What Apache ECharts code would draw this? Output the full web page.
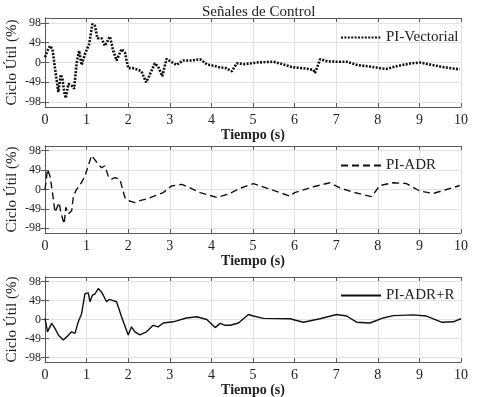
<!DOCTYPE html>
<html>
<head>
<meta charset="utf-8">
<script src="https://cdn.jsdelivr.net/npm/echarts@6/dist/echarts.min.js"></script>
<style>
  html, body { margin: 0; padding: 0; background: #fff; }
  #chart { width: 478px; height: 397px; }
</style>
</head>
<body>
<div id="chart"></div>
<script>
// PI-Vectorial (dotted)
const vecTime = [0, 0.06, 0.12, 0.18, 0.24, 0.32, 0.38, 0.42, 0.46, 0.5, 0.56, 0.64, 0.7, 0.76, 0.82, 0.88, 0.96, 1.06, 1.14, 1.2, 1.26, 1.36, 1.44, 1.56, 1.64, 1.72, 1.84, 1.92, 2.0, 2.12, 2.24, 2.32, 2.43, 2.52, 2.64, 2.72, 2.82, 2.92, 3.16, 3.32, 3.5, 3.73, 3.9, 4.05, 4.2, 4.35, 4.49, 4.61, 4.8, 5.1, 5.48, 5.7, 5.96, 6.2, 6.45, 6.49, 6.55, 6.61, 6.8, 7.0, 7.25, 7.5, 7.8, 8.05, 8.2, 8.5, 8.8, 9.01, 9.3, 9.6, 9.97];
const vecValue = [13, 29, 41, 33, -14, -73, -30, -41, -73, -88, -53, -57, -65, -2, 29, -6, 21, 45, 95, 91, 60, 60, 41, 64, 29, 5, 33, 25, -14, -14, -18, -22, -49, -30, -2, -10, -34, 9, -6, 5, 5, 8, -5, -8, -12, -14, -22, -2, -4, 0, 2, -4, -12, -14, -18, -26, -10, 8, 3, 2, 2, -6, -10, -14, -16, -8, -2, 0, -6, -12, -17];

// PI-ADR (dashed)
const adrTime = [0, 0.06, 0.12, 0.18, 0.2, 0.24, 0.28, 0.34, 0.38, 0.46, 0.5, 0.56, 0.64, 0.68, 0.74, 0.88, 0.96, 1.12, 1.28, 1.36, 1.44, 1.52, 1.6, 1.68, 1.8, 1.92, 2.0, 2.16, 2.28, 2.44, 2.64, 2.84, 3.04, 3.29, 3.45, 3.73, 4.13, 4.4, 4.69, 5.01, 5.49, 5.89, 6.0, 6.45, 6.85, 7.09, 7.41, 7.85, 8.05, 8.37, 8.69, 9.01, 9.33, 9.65, 9.97];
const adrValue = [0, 51, 34, -8, -24, -58, -62, -33, -58, -87, -45, -62, -54, -20, -3, 18, 34, 86, 64, 55, 60, 34, 26, 30, 26, -20, -28, -33, -28, -24, -16, -8, 9, 13, 6, -8, -20, -12, 3, 15, -2, -17, -8, 7, 17, 4, -7, -18, 10, 17, 15, -4, -10, 0, 10];

// PI-ADR+R (solid)
const adrrTime = [0, 0.06, 0.16, 0.24, 0.32, 0.44, 0.52, 0.64, 0.72, 0.8, 0.88, 0.96, 1.04, 1.08, 1.14, 1.2, 1.28, 1.34, 1.4, 1.48, 1.54, 1.6, 1.72, 1.84, 2.0, 2.08, 2.16, 2.28, 2.44, 2.6, 2.72, 2.84, 3.08, 3.4, 3.65, 3.89, 4.09, 4.21, 4.33, 4.45, 4.65, 4.89, 5.01, 5.25, 5.89, 6.21, 6.61, 7.01, 7.25, 7.49, 7.81, 8.13, 8.37, 8.85, 9.17, 9.53, 9.81, 10];
const adrrValue = [3, -32, -10, -23, -40, -53, -45, -32, -36, -6, 15, 67, 69, 46, 63, 66, 80, 74, 63, 46, 52, 50, 46, 7, -40, -19, -32, -40, -32, -15, -19, -9, -6, 4, 7, 0, -21, -10, -15, -15, -9, 13, 9, 3, 2, -7, 2, 13, 9, -7, -9, 4, 10, 12, 9, -7, -6, 2];

const xTicks = [0, 10];
const yTickLabels = [-98, -49, 0, 49, 98];
const seriesNames = ['PI-Vectorial', 'PI-ADR', 'PI-ADR+R'];

function zip(ts, vs) {
  return ts.map((t, i) => [t, vs[i]]);
}

const chart = echarts.init(document.getElementById('chart'));

const fontFamily = '"Liberation Serif", "DejaVu Serif", serif';
const frameColor = '#5a5a5a';
const gridTops = [18, 146, 277];
const gridHeights = [89, 87, 85];
const legendTops = [25, 153, 283];

const grids = gridTops.map((top, i) => ({
  left: 45,
  right: 17,
  top: top,
  height: gridHeights[i],
  containLabel: false,
  outerBoundsMode: 'none'
}));

const xAxes = [];
const yAxes = [];
gridTops.forEach((top, i) => {
  xAxes.push({
    type: 'value',
    gridIndex: i,
    min: xTicks[0],
    max: xTicks[1],
    interval: 1,
    name: 'Tiempo (s)',
    nameLocation: 'middle',
    nameGap: 20,
    nameTextStyle: { fontFamily: fontFamily, fontSize: 14, fontWeight: 'bold', color: '#222' },
    axisLine: { onZero: false, lineStyle: { color: frameColor } },
    axisTick: { inside: true, length: 4, lineStyle: { color: frameColor } },
    axisLabel: { fontFamily: fontFamily, fontSize: 14, color: '#222', margin: 6 },
    splitLine: { show: true, lineStyle: { color: '#e2e2e2' } }
  });
  xAxes.push({
    type: 'value',
    gridIndex: i,
    position: 'top',
    min: xTicks[0],
    max: xTicks[1],
    interval: 1,
    axisLine: { onZero: false, lineStyle: { color: frameColor } },
    axisTick: { inside: true, length: 4, lineStyle: { color: frameColor } },
    axisLabel: { show: false },
    splitLine: { show: false }
  });
  yAxes.push({
    type: 'value',
    gridIndex: i,
    min: -110,
    max: 110,
    name: 'Ciclo Útil (%)',
    nameLocation: 'middle',
    nameGap: 25,
    nameMoveOverlap: false,
    nameTextStyle: { fontFamily: fontFamily, fontSize: 15, color: '#222' },
    axisLine: { show: true, lineStyle: { color: frameColor } },
    axisTick: { show: true, inside: true, length: 4, customValues: yTickLabels, lineStyle: { color: frameColor } },
    axisLabel: { customValues: yTickLabels, fontFamily: fontFamily, fontSize: 12, color: '#222', margin: 4 },
    splitLine: { show: true, lineStyle: { color: '#e2e2e2' } }
  });
  yAxes.push({
    type: 'value',
    gridIndex: i,
    position: 'right',
    min: -110,
    max: 110,
    axisLine: { show: true, lineStyle: { color: frameColor } },
    axisTick: { show: true, inside: true, length: 4, customValues: yTickLabels, lineStyle: { color: frameColor } },
    axisLabel: { show: false },
    splitLine: { show: false }
  });
});

const lineStyles = [
  { color: '#111', width: 2.6, type: [2, 1.4] },
  { color: '#111', width: 1.4, type: [7, 4] },
  { color: '#111', width: 1.4, type: 'solid' }
];
const seriesData = [zip(vecTime, vecValue), zip(adrTime, adrValue), zip(adrrTime, adrrValue)];

chart.setOption({
  animation: false,
  title: {
    text: 'Señales de Control',
    left: 197,
    top: 0,
    textStyle: { fontFamily: fontFamily, fontSize: 15, fontWeight: 'normal', color: '#222' }
  },
  legend: seriesNames.map((name, i) => ({
    data: [name],
    left: 335,
    top: legendTops[i],
    itemWidth: 40,
    itemHeight: 14,
    itemStyle: { opacity: 0 },
    textStyle: { fontFamily: fontFamily, fontSize: 15, color: '#222' }
  })),
  grid: grids,
  xAxis: xAxes,
  yAxis: yAxes,
  series: seriesNames.map((name, i) => ({
    name: name,
    type: 'line',
    xAxisIndex: i * 2,
    yAxisIndex: i * 2,
    symbol: 'none',
    data: seriesData[i],
    lineStyle: lineStyles[i],
    itemStyle: { color: '#111' }
  }))
});
</script>
</body>
</html>
